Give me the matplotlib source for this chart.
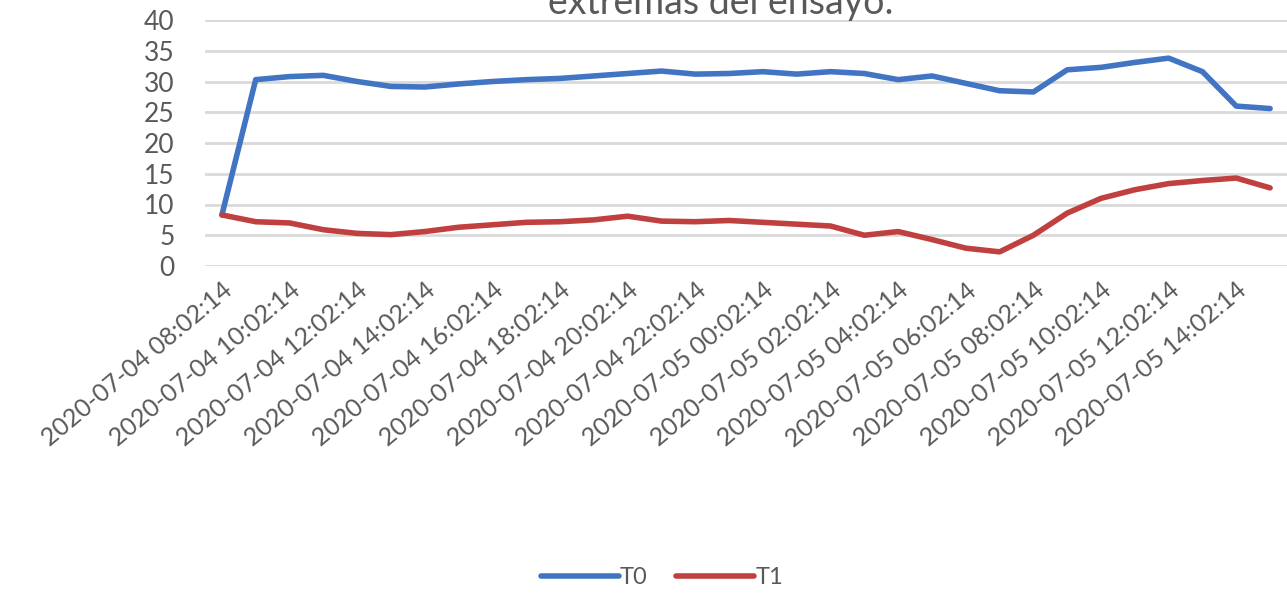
import matplotlib
matplotlib.use("Agg")
import matplotlib.pyplot as plt
import numpy as np

# hourly readings, 2020-07-04 08:02:14 to 2020-07-05 15:02:14
hours = ["2020-07-04 %02d:02:14" % h for h in range(8, 24)] + \
        ["2020-07-05 %02d:02:14" % h for h in range(0, 16)]

t0 = [8.3, 30.3, 30.8, 31.0, 30.0, 29.2, 29.1, 29.6, 30.0, 30.3, 30.5, 30.9,
      31.3, 31.7, 31.2, 31.3, 31.6, 31.2, 31.6, 31.3, 30.3, 30.9, 29.7, 28.5,
      28.3, 31.9, 32.3, 33.1, 33.8, 31.6, 26.0, 25.6]
t1 = [8.3, 7.2, 7.0, 5.9, 5.3, 5.1, 5.6, 6.3, 6.7, 7.1, 7.2, 7.5,
      8.1, 7.3, 7.2, 7.4, 7.1, 6.8, 6.5, 5.0, 5.6, 4.3, 2.9, 2.3,
      5.0, 8.6, 11.0, 12.4, 13.4, 13.9, 14.3, 12.7]

yticks = [0, 5, 10, 15, 20, 25, 30, 35, 40]

plt.rcParams['font.family'] = ['Lato', 'DejaVu Sans']
grey = '#595959'

fig = plt.figure(figsize=(12.87, 5.98), dpi=100)
ax = fig.add_axes([205 / 1287, 332 / 598, 1082 / 1287, 246 / 598])

x = np.arange(len(hours))
ax.plot(x, t0, color='#4175C3', lw=4, label='T0', solid_capstyle='round')
ax.plot(x, t1, color='#C0403F', lw=4, label='T1', solid_capstyle='round')

ax.set_xlim(-0.5, len(hours) - 0.5)
ax.set_ylim(0, 40)
ax.set_yticks(yticks)
ax.set_yticklabels([str(v) for v in yticks], fontsize=19, color=grey)
ax.yaxis.grid(True, color='#D9D9D9', lw=2)
ax.set_axisbelow(True)

ax.set_xticks(x[::2])
ax.set_xticklabels(hours[::2], rotation=40, ha='right', rotation_mode='anchor',
                   fontsize=18, color=grey)
ax.tick_params(axis='both', length=0)
ax.tick_params(axis='x', pad=9)
ax.tick_params(axis='y', pad=22)

for s in ax.spines.values():
    s.set_visible(False)

# second line of the chart title, partly outside the canvas
fig.text(0.56, 1 - 14 / 598, 'extremas del ensayo.', ha='center', va='baseline',
         fontsize=27, color=grey)

fig.legend(loc='center', bbox_to_anchor=(662 / 1287, 1 - 578 / 598), ncol=2,
           frameon=False, fontsize=17, handlelength=3.3, handletextpad=0.05,
           columnspacing=1.2, labelcolor=grey)

fig.savefig('out.png', dpi=100)
